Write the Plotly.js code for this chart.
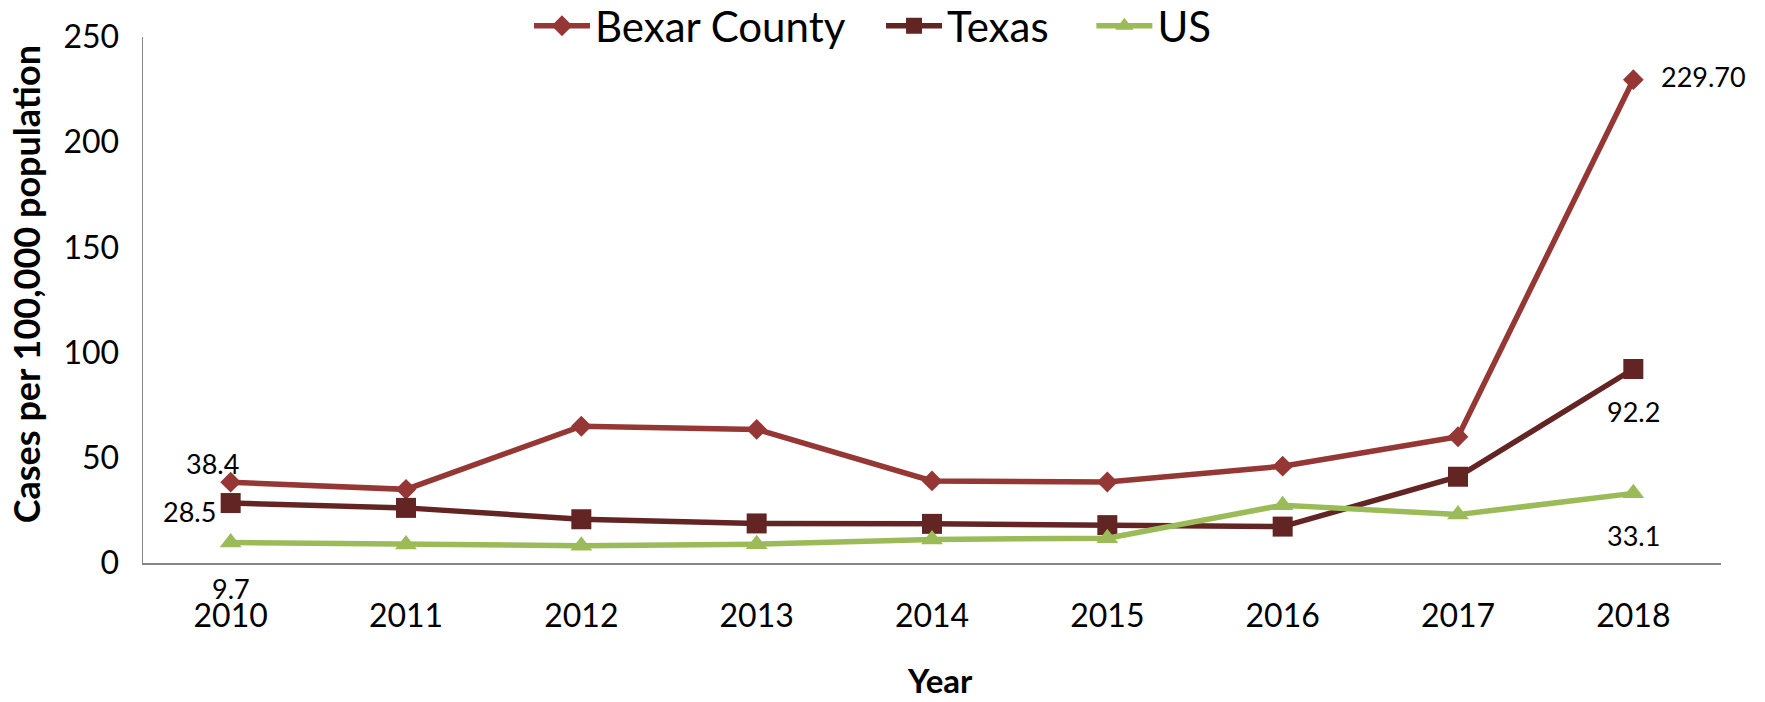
<!DOCTYPE html>
<html>
<head>
<meta charset="utf-8">
<script src="https://cdn.plot.ly/plotly-3.0.1.min.js"></script>
<style>html,body{margin:0;padding:0;background:#fff;}#chart{width:1765px;height:702px;}</style>
</head>
<body>
<div id="chart"></div>
<script>
var years = ['2010','2011','2012','2013','2014','2015','2016','2017','2018'];
var bexar = [38.4, 35.0, 65.0, 63.5, 39.0, 38.5, 46.0, 60.0, 229.7];
var texas = [28.5, 26.2, 20.8, 18.8, 18.6, 18.0, 17.3, 41.0, 92.2];
var us    = [9.7, 8.8, 8.2, 8.9, 11.2, 11.8, 27.5, 23.0, 33.1];
var seriesNames = ['Bexar County', 'Texas', 'US'];
var yTicks = [0, 50, 100, 150, 200, 250];

var FONT = 'Lato, "Open Sans", sans-serif';
var colors = ['#953735', '#632523', '#9BBB59'];
var symbols = ['diamond', 'square', 'triangle-up'];
var sizes = [16, 20, 19];
var legendIds = ['legend', 'legend2', 'legend3'];
var legendX = [0.2446, 0.4677, 0.601];
var allSeries = [bexar, texas, us];

var traces = allSeries.map(function(vals, i){
  return {
    type: 'scatter', mode: 'lines+markers', name: seriesNames[i],
    x: years, y: vals, legend: legendIds[i],
    line: {color: colors[i], width: 5.5},
    marker: {symbol: symbols[i], size: sizes[i], color: colors[i]},
    cliponaxis: false
  };
});

// data labels on first and last points
var labelStyle = [
  [{xs:-18, ys:19, dec:1, xa:'center'}, {xs:26, ys:3, dec:2, xa:'left'}],
  [{xs:-41, ys:-8, dec:1, xa:'center'}, {xs:0, ys:-42, dec:1, xa:'center'}],
  [{xs:0, ys:-46, dec:1, xa:'center'}, {xs:0, ys:-42, dec:1, xa:'center'}]
];
var annotations = [];
allSeries.forEach(function(vals, i){
  [0, vals.length-1].forEach(function(idx, k){
    var st = labelStyle[i][k];
    annotations.push({
      x: idx, y: vals[idx], xref:'x', yref:'y',
      text: vals[idx].toFixed(st.dec), showarrow:false,
      xanchor: st.xa, yanchor:'middle',
      xshift: st.xs, yshift: st.ys,
      font:{family:FONT, size:27, color:'#000'}
    });
  });
});
annotations.push({
  text:'<b>Cases per 100,000 population</b>', xref:'paper', yref:'paper',
  x:-0.0741, y:0.530, xanchor:'center', yanchor:'middle', textangle:-90, showarrow:false,
  font:{family:FONT, size:36, color:'#000'}
});
annotations.push({
  text:'<b>Year</b>', xref:'paper', yref:'paper',
  x:0.5048, y:-0.223, xanchor:'center', yanchor:'middle', showarrow:false,
  font:{family:FONT, size:33, color:'#000'}
});

var layout = {
  width:1765, height:702,
  margin:{l:143, r:44, t:37, b:139, autoexpand:false},
  paper_bgcolor:'#fff', plot_bgcolor:'#fff',
  showlegend:true,
  xaxis:{type:'category', range:[-0.5, 8.5], showgrid:false, zeroline:false,
    showline:true, linecolor:'#868686', linewidth:1.5, ticks:'',
    tickfont:{family:FONT, size:32, color:'#000'}, ticklabelstandoff:24, fixedrange:true},
  yaxis:{range:[0, 250], tickvals:yTicks, showgrid:false, zeroline:false,
    showline:true, linecolor:'#868686', linewidth:1.5, ticks:'',
    tickfont:{family:FONT, size:32, color:'#000'}, ticklabelstandoff:16, fixedrange:true},
  annotations: annotations
};
legendIds.forEach(function(id, i){
  layout[id] = {orientation:'h', x:legendX[i], xanchor:'left', y:1.021, yanchor:'middle',
    font:{family:FONT, size:42, color:'#000'}, bgcolor:'rgba(0,0,0,0)', itemwidth:56};
});

Plotly.newPlot('chart', traces, layout, {displayModeBar:false, staticPlot:true});
</script>
</body>
</html>
